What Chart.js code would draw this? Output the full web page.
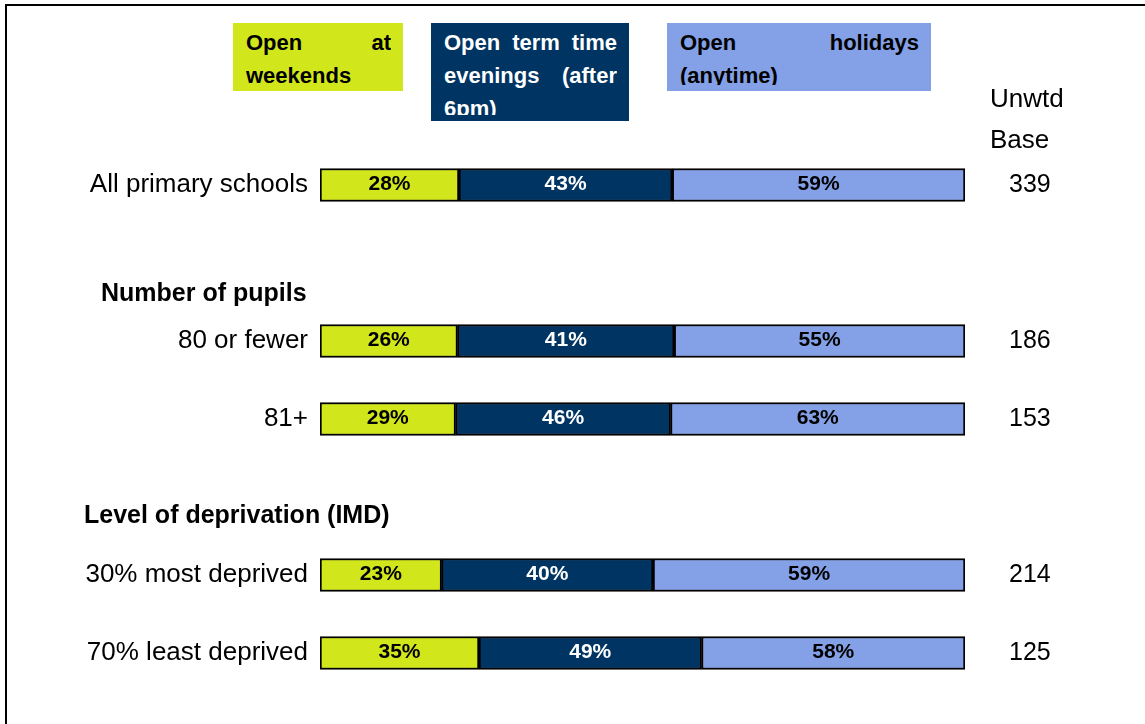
<!DOCTYPE html>
<html>
<head>
<meta charset="utf-8">
<script src="https://cdn.jsdelivr.net/npm/chart.js@4.4.1/dist/chart.umd.min.js"></script>
<style>
  html, body { margin: 0; padding: 0; background: #fff; }
  body { width: 1145px; height: 724px; position: relative; overflow: hidden; font-family: "Liberation Sans", Arial, sans-serif; }
  #frame { position: absolute; left: 5px; top: 4px; right: -10px; bottom: -10px; border-top: 2px solid #000; border-left: 2px solid #000; }
  #chart { position: absolute; left: 0; top: 0; }
  .key { position: absolute; top: 23px; box-sizing: border-box; padding: 3px 12px 6px 13px; }
  .key div { overflow: hidden; font-weight: bold; font-size: 22px; line-height: 33px; text-align: justify; }
  .heading { position: absolute; font-weight: bold; font-size: 25px; line-height: 30px; color: #000; }
  #base { position: absolute; left: 990px; top: 78px; width: 90px; height: 70px; overflow: hidden; font-size: 26px; line-height: 41px; color: #000; }
</style>
</head>
<body>
<div id="frame"></div>
<canvas id="chart" width="1145" height="724"></canvas>
<div id="legend"></div>
<div class="heading" style="left:101px; top:277px;">Number of pupils</div>
<div class="heading" style="left:84px; top:499px;">Level of deprivation (IMD)</div>
<div id="base">Unwtd Base</div>
<script>
'use strict';

// rows, blanks leave room for the group headings
const categories = ['All primary schools', '', '80 or fewer', '81+', '', '30% most deprived', '70% least deprived'];
const seriesNames = ['Open at weekends', 'Open term time evenings (after 6pm)', 'Open holidays (anytime)'];
const weekends = [28, null, 26, 29, null, 23, 35];
const evenings = [43, null, 41, 46, null, 40, 49];
const holidays = [59, null, 55, 63, null, 59, 58];
const bases = [339, null, 186, 153, null, 214, 125];

const colors = ['#d2e61c', '#003462', '#84a0e6'];
const textColors = ['#000', '#fff', '#000'];
// legend box placement: left, width, inner (clipped) height
const keyBoxes = [[233, 170, 59], [431, 198, 89], [667, 264, 59]];

// each bar is scaled to full width, segments in proportion to their values
const series = [weekends, evenings, holidays];
const totals = categories.map((c, i) => weekends[i] == null ? null : weekends[i] + evenings[i] + holidays[i]);
const share = arr => arr.map((v, i) => v == null ? null : v / totals[i] * 100);

const legendEl = document.getElementById('legend');
seriesNames.forEach((name, i) => {
  const box = document.createElement('div');
  box.className = 'key';
  box.style.left = keyBoxes[i][0] + 'px';
  box.style.width = keyBoxes[i][1] + 'px';
  box.style.background = colors[i];
  const inner = document.createElement('div');
  inner.style.height = keyBoxes[i][2] + 'px';
  inner.style.color = textColors[i];
  inner.textContent = name;
  box.appendChild(inner);
  legendEl.appendChild(box);
});

const barLabels = {
  id: 'barLabels',
  afterDatasetsDraw(chart) {
    const ctx = chart.ctx;
    ctx.save();
    ctx.font = 'bold 21px "Liberation Sans", Arial, sans-serif';
    ctx.textAlign = 'center';
    ctx.textBaseline = 'middle';
    chart.data.datasets.forEach((ds, i) => {
      chart.getDatasetMeta(i).data.forEach((bar, j) => {
        const v = ds.raw[j];
        if (v == null) return;
        const p = bar.getCenterPoint();
        ctx.fillStyle = textColors[i];
        ctx.fillText(v + '%', p.x, p.y - 1);
      });
    });
    ctx.restore();
  }
};

// fixed side widths, and no extra label padding above/below the rows
const fitSide = w => s => { s.width = w; s.paddingTop = 0; s.paddingBottom = 0; };

new Chart(document.getElementById('chart').getContext('2d'), {
  type: 'bar',
  data: {
    labels: categories,
    datasets: series.map((arr, i) => ({
      label: seriesNames[i],
      data: share(arr),
      raw: arr,
      backgroundColor: colors[i],
      borderColor: '#000',
      borderWidth: 2,
      borderSkipped: false,
      barThickness: 33
    }))
  },
  options: {
    indexAxis: 'y',
    responsive: false,
    animation: false,
    layout: { padding: { top: 146, bottom: 32, left: 0, right: 0 } },
    plugins: { legend: { display: false }, tooltip: { enabled: false } },
    scales: {
      x: { type: 'linear', min: 0, max: 100, stacked: true, display: false },
      y: {
        stacked: true,
        grid: { display: false, drawTicks: false },
        border: { display: false },
        ticks: { color: '#000', padding: 12, autoSkip: false, font: { size: 26, family: '"Liberation Sans", Arial, sans-serif' } },
        afterFit: fitSide(320)
      },
      y2: {
        type: 'category',
        position: 'right',
        labels: bases.map(b => b == null ? '' : String(b)),
        offset: true,
        grid: { display: false, drawTicks: false },
        border: { display: false },
        ticks: { color: '#000', padding: 44, autoSkip: false, font: { size: 25, family: '"Liberation Sans", Arial, sans-serif' } },
        afterFit: fitSide(180)
      }
    }
  },
  plugins: [barLabels]
});
</script>
</body>
</html>
